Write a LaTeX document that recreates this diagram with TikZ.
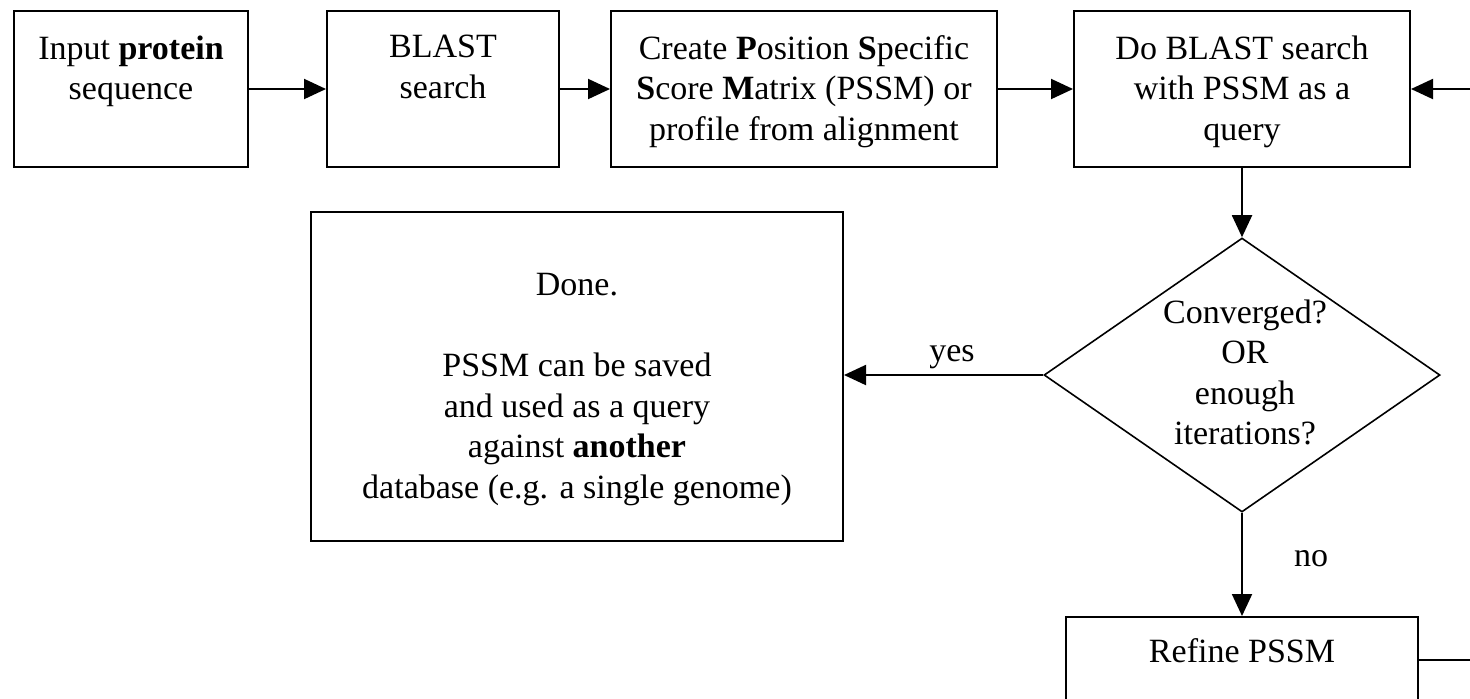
\documentclass[tikz,border=0pt]{standalone}
\usepackage{fontspec}
\setmainfont{Liberation Serif}
\usetikzlibrary{arrows.meta,shapes.geometric}
\begin{document}
\begin{tikzpicture}[x=0.5pt,y=-0.5pt,
  box/.style={draw, line width=1pt, rectangle, inner sep=0pt, minimum height=78pt},
  dia/.style={draw, line width=0.8pt, diamond, inner sep=0pt},
  txt/.style={align=center, inner sep=0pt, anchor=north, font=\fontsize{17}{20.25}\selectfont},
  lbl/.style={inner sep=0pt, font=\fontsize{17}{20.25}\selectfont},
  arr/.style={line width=1pt, -{Triangle[length=11pt,width=10pt]}}]
\clip (0,0) rectangle (1470,698);
% boxes
\node[box, minimum width=117pt] (b1) at (131,89) {};
\node[box, minimum width=116pt] (b2) at (443,89) {};
\node[box, minimum width=193pt] (b3) at (804,89) {};
\node[box, minimum width=168pt] (b4) at (1242,89) {};
\node[dia, minimum width=198pt, minimum height=137pt] (d) at (1242,375) {};
\node[box, minimum width=266pt, minimum height=164.5pt] (done) at (577,376.5) {};
\node[box, minimum width=176pt, minimum height=43pt] (ref) at (1242,660) {};
% texts
\node[txt] (t1) at (131,35) {Input \textbf{protein}\\sequence};
\node[txt] (t2) at (443,35) {BLAST\\search};
\node[txt] (t3) at (804,35) {Create \textbf{P}osition \textbf{S}pecific\\\textbf{S}core \textbf{M}atrix (PSSM) or\\profile from alignment};
\node[txt] (t4) at (1242,35) {Do BLAST search\\with PSSM as a\\query};
\node[txt] (td) at (1245,299) {Converged?\\OR\\enough\\iterations?};
\node[txt] (tdone) at (577,273) {Done.\\[20.25pt]PSSM can be saved\\and used as a query\\against \textbf{another}\\database (e.g. a single genome)};
\node[txt] (tref) at (1242,638) {Refine PSSM};
\node[lbl] (yes) at (952,357) {yes};
\node[lbl] (no) at (1311,559) {no};
% connectors
\coordinate (loop) at (1520,0);
\draw[arr] (b1.east) -- (b2.west);
\draw[arr] (b2.east) -- (b3.west);
\draw[arr] (b3.east) -- (b4.west);
\draw[arr] (b4.south) -- (d.north);
\draw[arr] (d.west) -- (d.west -| done.east);
\draw[arr] (d.south) -- (ref.north);
\draw[arr] (ref.east) -- (ref.east -| loop) -- (loop |- b4.east) -- (b4.east);
\end{tikzpicture}
\end{document}
